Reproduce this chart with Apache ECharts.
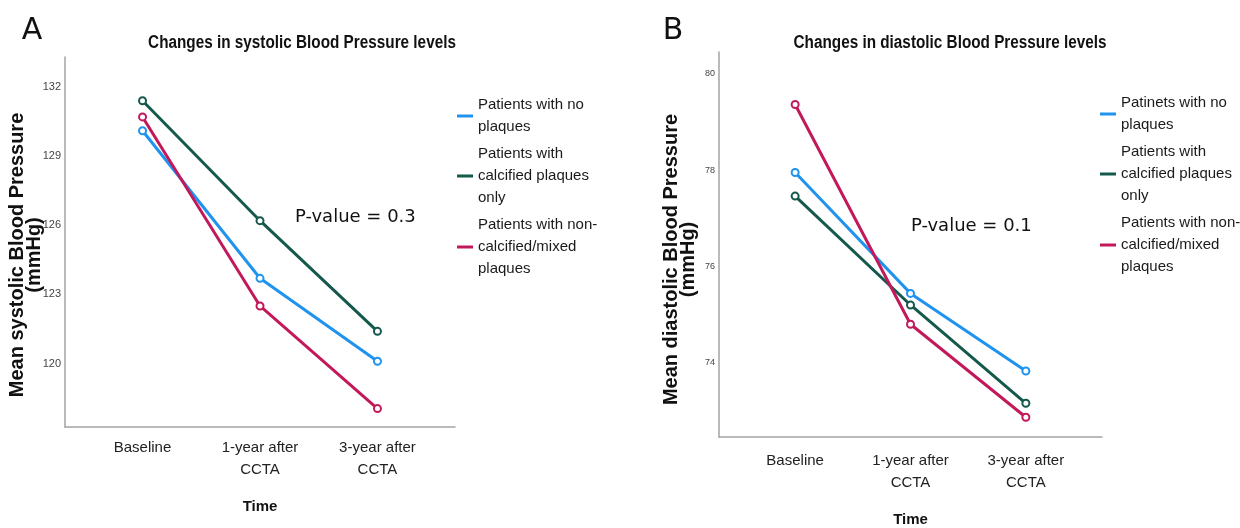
<!DOCTYPE html>
<html>
<head>
<meta charset="utf-8">
<script src="https://cdn.jsdelivr.net/npm/echarts@6/dist/echarts.min.js"></script>
<style>
html,body{margin:0;padding:0;background:#fff;}
#c{width:1240px;height:528px;}
</style>
</head>
<body>
<div id="c"></div>
<script>
// ---- data ----
const categories = ['Baseline', '1-year after\nCCTA', '3-year after\nCCTA'];
const seriesNamesA = ['Patients with no\nplaques', 'Patients with\ncalcified plaques\nonly', 'Patients with non-\ncalcified/mixed\nplaques'];
const seriesNamesB = ['Patinets with no\nplaques', 'Patients with\ncalcified plaques\nonly', 'Patients with non-\ncalcified/mixed\nplaques'];
const systolicNoPlaque = [130.1, 123.7, 120.1];
const systolicCalcified = [131.4, 126.2, 121.4];
const systolicMixed = [130.7, 122.5, 118.05];
const diastolicNoPlaque = [77.95, 75.44, 73.83];
const diastolicCalcified = [77.46, 75.2, 73.16];
const diastolicMixed = [79.36, 74.8, 72.87];
const yTicksA = [120, 123, 126, 129, 132];
const yTicksB = [74, 76, 78, 80];
const titleA = 'Changes in systolic Blood Pressure levels';
const titleB = 'Changes in diastolic Blood Pressure levels';
const yNameA = 'Mean systolic Blood Pressure\n(mmHg)';
const yNameB = 'Mean diastolic Blood Pressure\n(mmHg)';
const xName = 'Time';
const pValueA = 'P-value = 0.3';
const pValueB = 'P-value = 0.1';

const colors = ['#1f93ee', '#14594c', '#c2195b'];
const SANS = "'Liberation Sans',Arial,sans-serif";
const AXIS_COLOR = '#a3a3a3';

function pts(arr) { return arr.map((v, i) => [i, v]); }

function xAxisCfg(gridIndex, margin, nameGap) {
  return {
    type: 'value', gridIndex: gridIndex, min: -0.66, max: 2.66,
    splitLine: {show: false}, axisTick: {show: false},
    axisLine: {show: true, onZero: false, lineStyle: {color: AXIS_COLOR, width: 1.5}},
    axisLabel: {
      customValues: [0, 1, 2],
      formatter: v => categories[Math.round(v)],
      fontFamily: SANS, fontSize: 15, lineHeight: 22, color: '#222', margin: margin
    },
    name: xName, nameLocation: 'middle', nameGap: nameGap, nameMoveOverlap: false,
    nameTextStyle: {fontFamily: SANS, fontWeight: 'bold', fontSize: 15, color: '#111'}
  };
}
function yAxisCfg(gridIndex, min, max, ticks, name, fs, pad) {
  return {
    type: 'value', gridIndex: gridIndex, min: min, max: max,
    splitLine: {show: false}, axisTick: {show: false},
    axisLine: {show: true, onZero: false, lineStyle: {color: AXIS_COLOR, width: 1.5}},
    axisLabel: {customValues: ticks, fontFamily: SANS, fontSize: fs, color: '#444', margin: 4},
    name: name, nameLocation: 'middle', nameRotate: 90, nameGap: 22, nameMoveOverlap: false,
    nameTextStyle: {fontFamily: SANS, fontWeight: 'bold', fontSize: 20,
      lineHeight: 17, color: '#111', align: 'center', padding: [0, pad, 0, 0]}
  };
}
function lineSeries(name, data, color, idx) {
  return {
    type: 'line', name: name, data: pts(data), xAxisIndex: idx, yAxisIndex: idx,
    symbol: 'emptyCircle', symbolSize: 7,
    lineStyle: {color: color, width: 3},
    itemStyle: {color: color, borderWidth: 1.5},
    emphasis: {disabled: true}, animation: false
  };
}
function legendCfg(names, left, top) {
  return {
    data: names, orient: 'vertical', left: left, top: top, itemGap: 5, padding: 0,
    icon: 'rect', itemWidth: 16, itemHeight: 3, selectedMode: false,
    textStyle: {fontFamily: SANS, fontSize: 15, lineHeight: 22, color: '#1a1a1a'}
  };
}
function txt(text, x, y, font, align, valign, sx) {
  return {type: 'text', x: x, y: y, silent: true, scaleX: sx || 1,
    style: {text: text, font: font, fill: '#111', align: align, verticalAlign: valign}};
}

const chart = echarts.init(document.getElementById('c'), null, {renderer: 'canvas'});
chart.setOption({
  backgroundColor: '#fff',
  animation: false,
  grid: [
    {left: 65, top: 57, width: 390, height: 370, outerBoundsMode: 'none', containLabel: false},
    {left: 719, top: 52, width: 383, height: 385, outerBoundsMode: 'none', containLabel: false}
  ],
  xAxis: [xAxisCfg(0, 10, 72), xAxisCfg(1, 13, 75)],
  yAxis: [
    yAxisCfg(0, 117.25, 133.3, yTicksA, yNameA, 11, 26),
    yAxisCfg(1, 72.46, 80.45, yTicksB, yNameB, 9, 30)
  ],
  legend: [legendCfg(seriesNamesA, 457, 94), legendCfg(seriesNamesB, 1100, 92)],
  series: [
    lineSeries(seriesNamesA[0], systolicNoPlaque, colors[0], 0),
    lineSeries(seriesNamesA[1], systolicCalcified, colors[1], 0),
    lineSeries(seriesNamesA[2], systolicMixed, colors[2], 0),
    lineSeries(seriesNamesB[0], diastolicNoPlaque, colors[0], 1),
    lineSeries(seriesNamesB[1], diastolicCalcified, colors[1], 1),
    lineSeries(seriesNamesB[2], diastolicMixed, colors[2], 1)
  ],
  graphic: [
    txt('A', 32, 31, "30px 'DejaVu Sans',sans-serif", 'center', 'middle'),
    txt('B', 673, 31, "30px 'DejaVu Sans',sans-serif", 'center', 'middle'),
    txt(titleA, 302, 43, "bold 18px " + SANS, 'center', 'middle', 0.85),
    txt(titleB, 950, 43, "bold 18px " + SANS, 'center', 'middle', 0.85),
    txt(pValueA, 295, 217, "18px 'DejaVu Sans',sans-serif", 'left', 'middle'),
    txt(pValueB, 911, 226, "18px 'DejaVu Sans',sans-serif", 'left', 'middle')
  ]
});
</script>
</body>
</html>
